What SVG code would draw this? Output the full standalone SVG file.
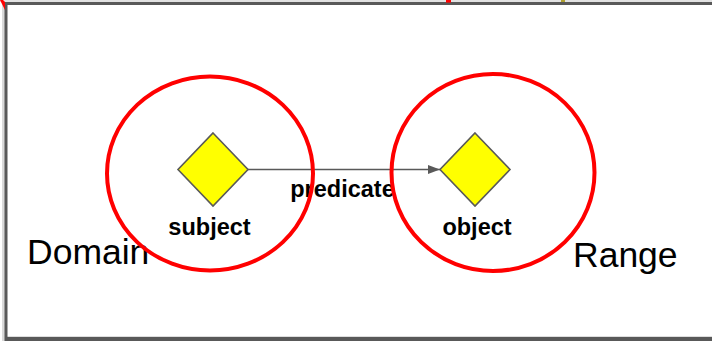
<svg xmlns="http://www.w3.org/2000/svg" width="712" height="341" viewBox="0 0 712 341">
  <style>
    .node { fill: #ffff00; stroke: #595959; stroke-width: 1.6; }
    .lbl { font-family: "Liberation Sans", Arial, sans-serif; font-weight: bold; font-size: 23.5px; fill: #000; text-anchor: middle; }
    .big { font-family: "Liberation Sans", Arial, sans-serif; font-size: 35.5px; fill: #000; }
    .set { fill: none; stroke: #ff0000; stroke-width: 4; }
    .edge { stroke: #595959; stroke-width: 1.6; fill: none; }
  </style>
  <defs>
    <marker id="arrow" viewBox="0 0 12 9" refX="12" refY="4.5" markerWidth="12" markerHeight="9" markerUnits="userSpaceOnUse" orient="auto">
      <path d="M0,0 L12,4.5 L0,9 Z" fill="#595959"/>
    </marker>
  </defs>

  <!-- page background and frame -->
  <rect x="0" y="0" width="712" height="341" fill="#ffffff"/>
  <rect x="0" y="0" width="712" height="2" fill="#e2e2e2"/>
  <rect x="2" y="2" width="3" height="339" fill="#dadada"/>
  <path d="M6,341 V3.6 H712" fill="none" stroke="#595959" stroke-width="3"/>
  <rect x="6" y="336.8" width="706" height="4.2" fill="#595959"/>

  <!-- clipped marks along the top edge -->
  <path d="M0,0 L5,10 L5,2 L3,0 Z" fill="#ff0000"/>
  <rect x="446" y="0" width="5" height="2.6" fill="#ff0000"/>
  <rect x="561" y="0" width="4" height="2" fill="#b0a030"/>

  <!-- connectors -->
  <g id="connectors">
    <line class="edge" x1="248" y1="169.5" x2="440" y2="169.5" marker-end="url(#arrow)"/>
    <text class="lbl" x="342.5" y="197">predicate</text>
  </g>

  <g id="subject">
    <polygon class="node" points="213,133 248,169.5 213,206 178,169.5"/>
    <text class="lbl" x="209.5" y="235">subject</text>
  </g>

  <g id="object">
    <polygon class="node" points="475,133 510,169.5 475,206 440,169.5"/>
    <text class="lbl" x="477" y="235">object</text>
  </g>

  <g id="domain">
    <text class="big" x="27" y="264">Domain</text>
    <ellipse class="set" cx="210" cy="173.5" rx="103" ry="97"/>
  </g>

  <g id="range">
    <text class="big" x="573" y="266.5">Range</text>
    <ellipse class="set" cx="493" cy="172.5" rx="101.5" ry="98.5"/>
  </g>
</svg>
